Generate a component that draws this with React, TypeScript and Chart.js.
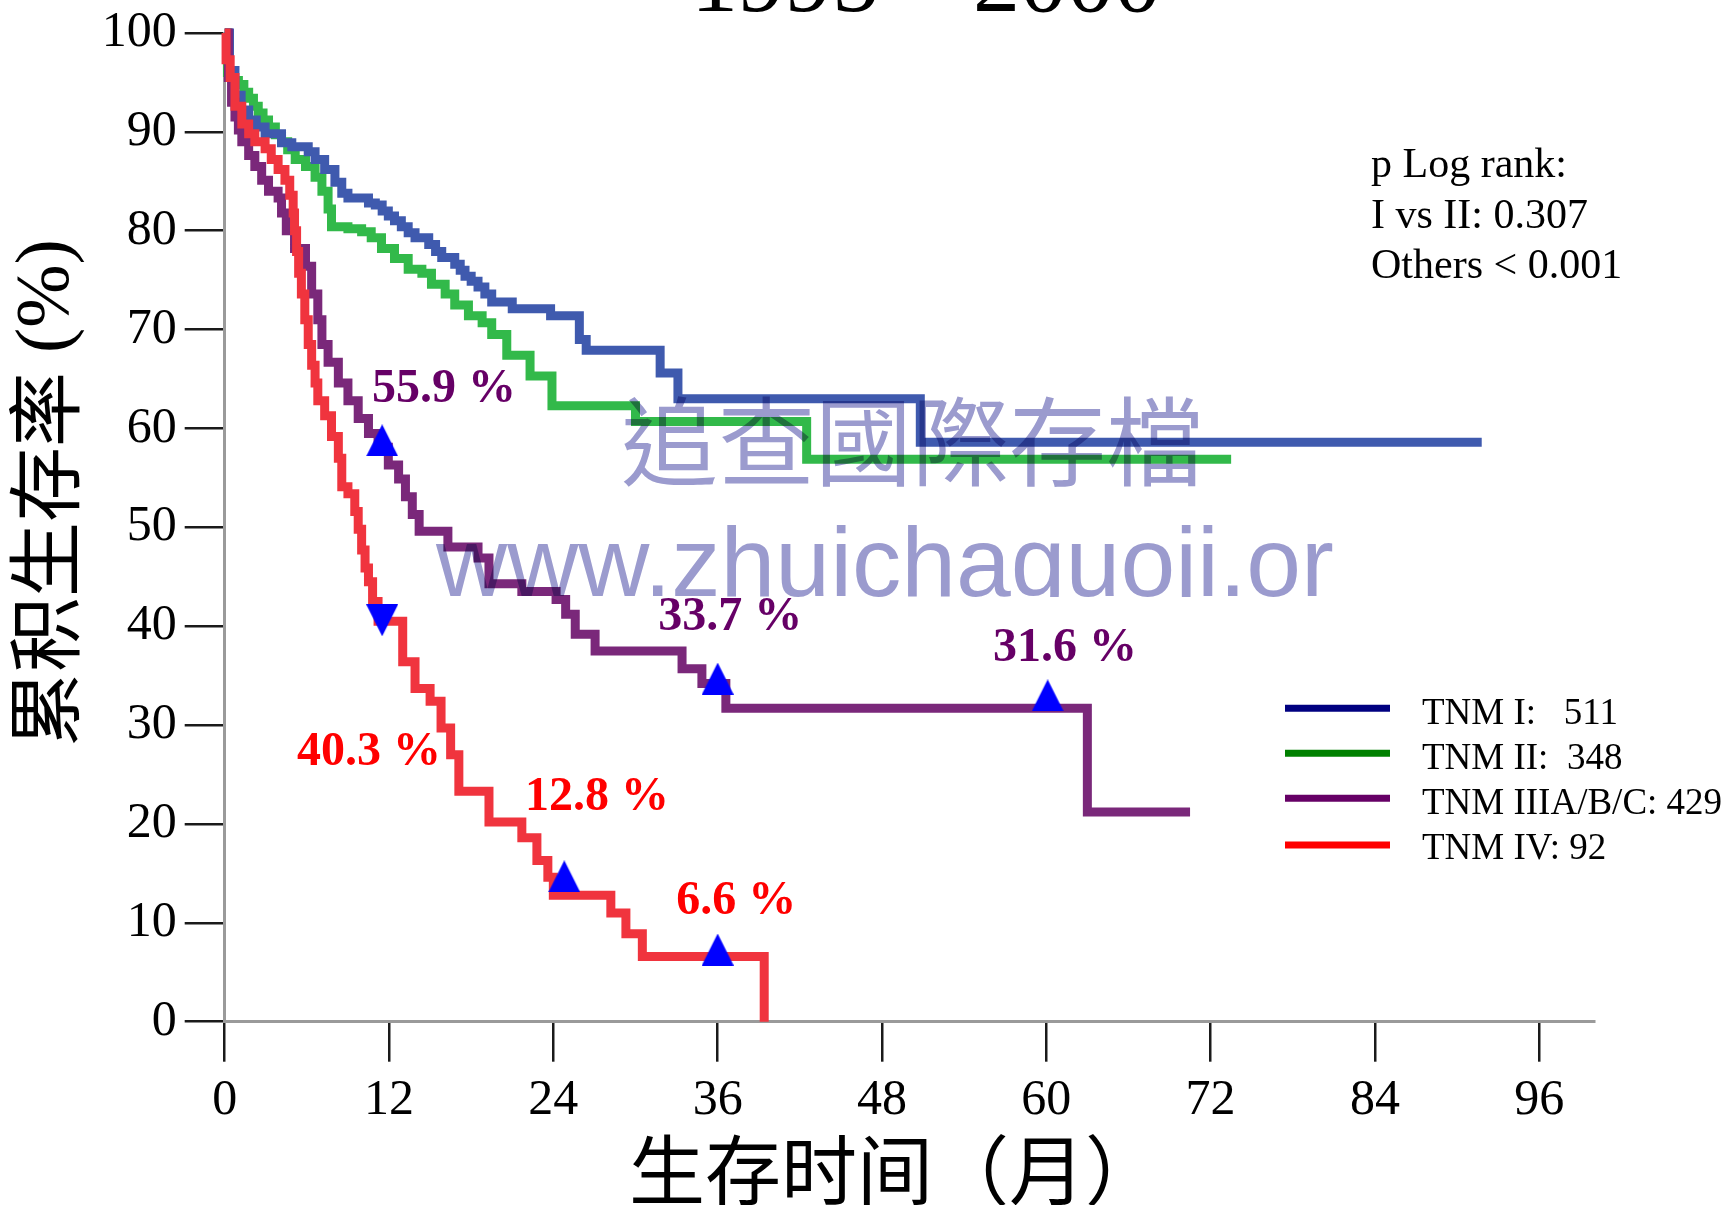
import React, { useEffect, useRef } from "react";
import { Chart, registerables } from "chart.js";

Chart.register(...registerables);

const W = 1727;
const H = 1205;

// ---------- data ----------
const xTickValues = [0, 12, 24, 36, 48, 60, 72, 84, 96];
const yTickValues = [0, 10, 20, 30, 40, 50, 60, 70, 80, 90, 100];

const titleText = "1995 – 2000";
const xAxisTitle = "生存时间（月）";
const yAxisTitleCJK = "累积生存率";
const yAxisTitleLatin = " (%)";
const pValueLines = ["p Log rank:", "I vs II: 0.307", "Others < 0.001"];
const watermarkCJK = "追查國際存檔";
const watermarkURL = "www.zhuichaguoji.or";

const seriesLabels = ["TNM I:   511", "TNM II:  348", "TNM IIIA/B/C: 429", "TNM IV: 92"];
const seriesColors = ["rgb(63,90,174)", "rgb(50,185,74)", "rgb(122,40,122)", "rgb(240,52,62)"];
const legendColors = ["#000080", "#008000", "#660066", "#ff0000"];

const tnm1Months = [0, 0.35, 0.75, 1.2, 1.75, 2.3, 2.95, 4.15, 4.9, 6.1, 6.6, 7.3, 8.05, 8.55, 9.0, 10.5, 11.0, 11.5, 11.95, 12.4, 12.9, 13.4, 13.9, 14.9, 15.4, 15.85, 16.8, 17.2, 17.55, 18.0, 18.5, 19.0, 19.5, 21.0, 23.8, 25.9, 26.4, 31.8, 33.1, 50.8, 91.8];
const tnm1Surv = [100, 96.2, 93.7, 92.2, 91.2, 90.5, 89.8, 88.9, 88.5, 88.0, 87.2, 86.2, 84.9, 83.8, 83.3, 82.8, 82.6, 82.0, 81.5, 81.0, 80.4, 79.8, 79.3, 78.6, 77.9, 77.3, 76.6, 76.0, 75.4, 74.9, 74.3, 73.6, 72.8, 72.1, 71.4, 69.0, 67.9, 65.6, 63.0, 58.6, 58.6];

const tnm2Months = [0, 0.2, 0.6, 1.0, 1.4, 1.75, 2.1, 2.45, 2.8, 3.2, 3.7, 4.15, 4.6, 5.15, 5.9, 6.6, 7.1, 7.55, 7.8, 9.0, 10.0, 10.7, 11.45, 12.4, 13.4, 14.4, 15.1, 16.1, 16.8, 17.8, 18.8, 19.5, 20.6, 22.3, 23.9, 30.0, 42.5, 73.5];
const tnm2Surv = [100, 96.0, 95.2, 94.8, 94.0, 93.4, 92.6, 91.9, 91.2, 90.5, 89.7, 89.0, 88.2, 87.2, 86.5, 85.4, 84.0, 82.2, 80.4, 80.2, 79.9, 79.3, 78.2, 77.2, 76.1, 75.7, 74.6, 73.6, 72.5, 71.4, 70.7, 69.5, 67.4, 65.3, 62.3, 60.7, 56.9, 56.9];

const tnm3Months = [0, 0.27, 0.5, 0.75, 1.0, 1.25, 1.75, 2.2, 2.7, 3.2, 3.9, 4.15, 4.5, 5.1, 5.9, 6.35, 6.8, 7.1, 7.55, 8.3, 9.0, 9.75, 10.5, 11.2, 11.95, 12.7, 13.2, 13.7, 14.2, 16.3, 18.5, 19.3, 21.7, 24.2, 24.9, 25.6, 27.05, 33.4, 34.85, 36.6, 63.0, 70.5];
const tnm3Surv = [100, 95.5, 93.0, 91.5, 90.2, 89.0, 87.6, 86.5, 85.1, 84.0, 83.3, 81.8, 80.0, 78.2, 76.4, 73.6, 71.0, 68.5, 66.7, 64.6, 62.8, 61.0, 59.5, 58.1, 56.3, 54.9, 53.1, 51.3, 49.6, 48.0, 46.9, 44.3, 43.5, 42.7, 41.2, 39.2, 37.5, 35.7, 34.2, 31.7, 21.2, 21.2];

const tnm4Months = [0, 0.1, 0.4, 0.75, 1.25, 1.75, 2.2, 2.95, 3.4, 3.9, 4.4, 4.75, 5.0, 5.1, 5.25, 5.4, 5.6, 5.85, 6.1, 6.35, 6.6, 6.8, 7.3, 7.8, 8.3, 8.55, 9.0, 9.5, 9.75, 10.0, 10.25, 10.5, 10.8, 11.2, 13.0, 13.9, 15.0, 15.8, 16.5, 17.1, 19.3, 21.7, 22.8, 23.6, 24.0, 28.2, 29.3, 30.5, 39.4];
const tnm4Surv = [100, 97.3, 95.5, 92.6, 90.8, 89.8, 89.0, 88.3, 87.2, 86.2, 85.1, 83.6, 81.8, 80.0, 77.9, 75.7, 73.6, 71.0, 68.5, 66.4, 64.6, 62.8, 61.3, 59.2, 57.0, 54.1, 53.4, 51.6, 49.8, 47.7, 45.9, 44.5, 42.5, 40.5, 36.4, 33.7, 32.4, 29.7, 27.0, 23.3, 20.2, 18.6, 16.3, 14.6, 12.8, 11.0, 8.9, 6.6, 0];

// triangle markers (centre positions)
const upMarkerMonths = [11.5, 36.0, 60.1, 24.8, 36.0];
const upMarkerValues = [58.8, 34.7, 33.0, 14.7, 7.3];
const downMarkerMonths = [11.5];
const downMarkerValues = [40.6];

// annotation labels (left / baseline anchor in data units)
const annotTexts = ["55.9 %", "33.7 %", "31.6 %", "40.3 %", "12.8 %", "6.6 %"];
const annotColors = ["#660066", "#660066", "#660066", "#ff0000", "#ff0000", "#ff0000"];
const annotMonths = [10.76, 31.66, 56.1, 5.28, 21.94, 32.97];
const annotValues = [62.7, 39.66, 36.5, 25.96, 21.43, 10.85];

// ---------- styling ----------
const SERIF = '"Liberation Serif", "Times New Roman", serif';
const CJK_SC = '"Noto Sans CJK SC", sans-serif';
const CJK_TC = '"Noto Sans CJK TC", sans-serif';
const SANS = '"Liberation Sans", Arial, sans-serif';

function toPoints(xs: number[], ys: number[]) {
  return xs.map((x, i) => ({ x, y: ys[i] }));
}

function makeTriangle(up: boolean) {
  const c = document.createElement("canvas");
  c.width = 32;
  c.height = 32;
  const g = c.getContext("2d")!;
  g.fillStyle = "#0000ff";
  g.beginPath();
  if (up) {
    g.moveTo(16, 0);
    g.lineTo(32, 32);
    g.lineTo(0, 32);
  } else {
    g.moveTo(0, 0);
    g.lineTo(32, 0);
    g.lineTo(16, 32);
  }
  g.closePath();
  g.fill();
  return c;
}

const overlayPlugin = {
  id: "overlay",
  afterDatasetsDraw(chart: any) {
    const ctx: CanvasRenderingContext2D = chart.ctx;
    const xs = chart.scales.x;
    const ys = chart.scales.y;

    // watermark
    ctx.save();
    ctx.globalCompositeOperation = "multiply";
    ctx.fillStyle = "rgb(155,155,206)";
    ctx.textAlign = "left";
    ctx.textBaseline = "middle";
    ctx.font = `97px ${CJK_TC}`;
    ctx.fillText(watermarkCJK, 621, 441);
    ctx.beginPath();
    ctx.rect(0, 0, W, 597);
    ctx.clip();
    ctx.textBaseline = "alphabetic";
    ctx.font = `98.5px ${SANS}`;
    ctx.fillText(watermarkURL, 436, 596);
    ctx.restore();

    // annotation labels
    ctx.save();
    ctx.textAlign = "left";
    ctx.textBaseline = "alphabetic";
    ctx.font = `bold 48px ${SERIF}`;
    annotTexts.forEach((t, i) => {
      ctx.fillStyle = annotColors[i];
      ctx.fillText(t, xs.getPixelForValue(annotMonths[i]), ys.getPixelForValue(annotValues[i]));
    });
    ctx.restore();
  },
  afterDraw(chart: any) {
    const ctx: CanvasRenderingContext2D = chart.ctx;
    ctx.save();
    ctx.fillStyle = "#000";

    // title (mostly cut off at the top)
    ctx.textAlign = "center";
    ctx.textBaseline = "alphabetic";
    ctx.font = `94px ${SERIF}`;
    ctx.fillText(titleText, 926, 11);

    // x axis title
    ctx.textAlign = "left";
    ctx.textBaseline = "middle";
    ctx.font = `76px ${CJK_SC}`;
    ctx.fillText(xAxisTitle, 629, 1170);

    // y axis title
    ctx.save();
    ctx.translate(44, 747);
    ctx.rotate(-Math.PI / 2);
    ctx.textAlign = "left";
    ctx.textBaseline = "middle";
    ctx.font = `75px ${CJK_SC}`;
    ctx.fillText(yAxisTitleCJK, 0, 0);
    const w = ctx.measureText(yAxisTitleCJK).width;
    ctx.font = `76px ${SERIF}`;
    ctx.fillText(yAxisTitleLatin, w, 4);
    ctx.restore();

    // p values
    ctx.textAlign = "left";
    ctx.textBaseline = "alphabetic";
    ctx.font = `42px ${SERIF}`;
    const pBase = [177, 228, 278];
    pValueLines.forEach((t, i) => ctx.fillText(t, 1371, pBase[i]));

    // legend
    const lineY = [708.3, 753.3, 798.3, 845];
    const textY = [724, 769, 814, 859];
    ctx.font = `37px ${SERIF}`;
    seriesLabels.forEach((lab, i) => {
      ctx.strokeStyle = legendColors[i];
      ctx.lineWidth = 7;
      ctx.beginPath();
      ctx.moveTo(1285, lineY[i]);
      ctx.lineTo(1390, lineY[i]);
      ctx.stroke();
      ctx.fillStyle = "#000";
      ctx.fillText(lab, 1422, textY[i]);
    });
    ctx.restore();
  },
};

export default function App() {
  const ref = useRef<HTMLCanvasElement | null>(null);

  useEffect(() => {
    const canvas = ref.current;
    if (!canvas) return;
    const upTri = makeTriangle(true);
    const downTri = makeTriangle(false);

    const curve = (label: string, xs: number[], ys: number[], color: string, order: number) => ({
      label,
      data: toPoints(xs, ys),
      borderColor: color,
      backgroundColor: color,
      borderWidth: 9,
      pointRadius: 0,
      stepped: "before" as const,
      fill: false,
      clip: false as any,
      order,
    });

    const chart = new Chart(canvas, {
      type: "line",
      data: {
        datasets: [
          curve(seriesLabels[0], tnm1Months, tnm1Surv, seriesColors[0], 3),
          curve(seriesLabels[1], tnm2Months, tnm2Surv, seriesColors[1], 4),
          curve(seriesLabels[2], tnm3Months, tnm3Surv, seriesColors[2], 2),
          curve(seriesLabels[3], tnm4Months, tnm4Surv, seriesColors[3], 1),
          {
            label: "up markers",
            data: toPoints(upMarkerMonths, upMarkerValues),
            showLine: false,
            pointStyle: upTri as any,
            pointRadius: 16,
            clip: false as any,
            order: 0,
          },
          {
            label: "down markers",
            data: toPoints(downMarkerMonths, downMarkerValues),
            showLine: false,
            pointStyle: downTri as any,
            pointRadius: 16,
            clip: false as any,
            order: 0,
          },
        ] as any,
      },
      options: {
        responsive: false,
        animation: false,
        events: [],
        layout: { padding: { left: 0, right: 133, top: 29, bottom: 0 } },
        plugins: {
          legend: { display: false },
          title: { display: false },
          tooltip: { enabled: false },
        },
        scales: {
          x: {
            type: "linear",
            min: 0,
            max: 100,
            afterBuildTicks: (s: any) => {
              s.ticks = xTickValues.map((v) => ({ value: v }));
            },
            afterFit: (s: any) => {
              s.height = H - 1021.7;
            },
            grid: { drawOnChartArea: false, drawTicks: true, tickLength: 40, color: "#1a1a1a", lineWidth: 2.5 },
            border: { display: true, color: "#9a9a9a", width: 3 },
            ticks: {
              font: { family: SERIF, size: 50 },
              color: "#000",
              padding: 9,
              maxRotation: 0,
              autoSkip: false,
              callback: (v: any) => String(v),
            },
          },
          y: {
            type: "linear",
            min: 0,
            max: 100,
            afterBuildTicks: (s: any) => {
              s.ticks = yTickValues.map((v) => ({ value: v }));
            },
            afterFit: (s: any) => {
              s.width = 224.7;
            },
            grid: { drawOnChartArea: false, drawTicks: true, tickLength: 40, color: "#1a1a1a", lineWidth: 2.5 },
            border: { display: true, color: "#9a9a9a", width: 3 },
            ticks: {
              font: { family: SERIF, size: 50, lineHeight: 1.0 },
              color: "#000",
              padding: 8,
              autoSkip: false,
              callback: (v: any) => String(v),
            },
          },
        },
      } as any,
      plugins: [overlayPlugin as any],
    });

    const fontsToLoad = [
      `75px ${CJK_SC}`,
      `96px ${CJK_TC}`,
      `48px ${SERIF}`,
      `bold 46px ${SERIF}`,
      `98px ${SANS}`,
    ];
    if ((document as any).fonts && (document as any).fonts.load) {
      Promise.all(fontsToLoad.map((f) => (document as any).fonts.load(f, "累积生存率追查國際存檔1"))).then(
        () => {
          try {
            chart.update();
          } catch (e) {}
        },
        () => {}
      );
    }

    return () => {
      chart.destroy();
    };
  }, []);

  return (
    <div style={{ position: "absolute", left: 0, top: 0, width: W, height: H, background: "#fff" }}>
      <canvas ref={ref} width={W} height={H} style={{ width: W, height: H, display: "block" }} />
    </div>
  );
}
